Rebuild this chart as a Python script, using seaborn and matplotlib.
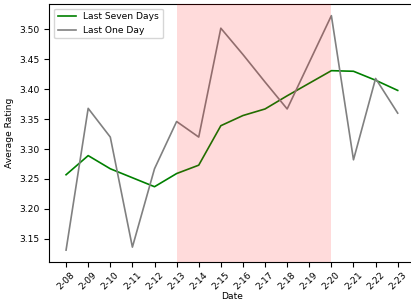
import pandas as pd
import matplotlib
matplotlib.use("Agg")
import matplotlib.pyplot as plt
import seaborn as sns

dates = ["2-08", "2-09", "2-10", "2-11", "2-12", "2-13", "2-14", "2-15",
         "2-16", "2-17", "2-18", "2-19", "2-20", "2-21", "2-22", "2-23"]
last_seven = [3.257, 3.289, 3.267, 3.252, 3.237, 3.259, 3.273, 3.339,
              3.356, 3.367, 3.389, 3.410, 3.431, 3.430, 3.415, 3.398]
last_one = [3.131, 3.368, 3.320, 3.136, 3.267, 3.346, 3.320, 3.502,
            3.458, 3.412, 3.367, 3.445, 3.523, 3.282, 3.418, 3.360]
span_start, span_end = "2-13", "2-20"

df = pd.DataFrame({"Date": dates, "seven": last_seven, "one": last_one})

plt.rcParams["font.size"] = 6.6
fig, ax = plt.subplots(figsize=(4.11, 3.02), dpi=100)
sns.lineplot(data=df, x="Date", y="seven", color="green", lw=1.2,
             label="Last Seven Days", ax=ax)
sns.lineplot(data=df, x="Date", y="one", color="gray", lw=1.2,
             label="Last One Day", ax=ax)
ax.axvspan(dates.index(span_start), dates.index(span_end), color="red", alpha=0.14,
           lw=0, zorder=3)

ax.set_xlabel("Date", labelpad=0.5)
ax.set_ylabel("Average Rating")
ax.tick_params(axis="x", rotation=45, pad=2.5)
ax.legend(loc="upper left")
plt.subplots_adjust(left=0.1204, right=1.008, top=0.987, bottom=0.133)
plt.savefig("out.png")
